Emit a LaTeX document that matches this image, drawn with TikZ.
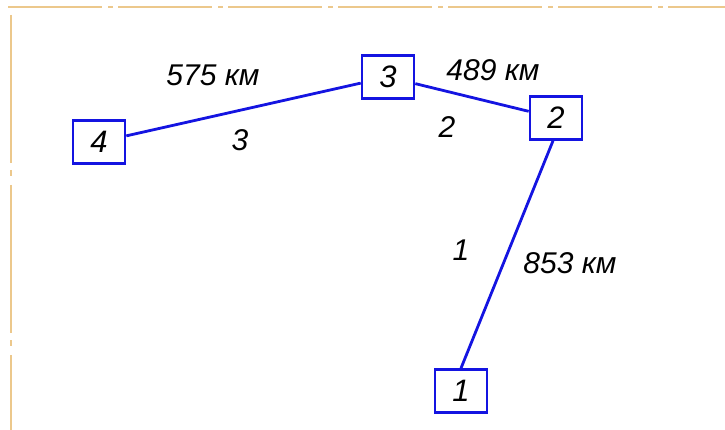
\documentclass[tikz,border=0pt]{standalone}
\usepackage{fontspec}
\setmainfont{Liberation Sans}
\definecolor{lineblue}{RGB}{20,20,225}
\definecolor{frameorange}{RGB}{236,200,140}
\begin{document}
\begin{tikzpicture}[x=1pt,y=-1pt,
        town/.style={draw=lineblue,line width=2.6pt,minimum width=52pt,minimum height=43pt,inner sep=0pt,font=\itshape\fontsize{31}{31}\selectfont},
        road/.style={lineblue,line width=2.8pt},
        lbl/.style={font=\itshape\fontsize{30}{30}\selectfont,inner sep=0pt}]
                \useasboundingbox (0,0) rectangle (725,430);
                % frame
                \draw[frameorange,line width=1.6pt,dash pattern=on 94pt off 6pt on 5pt off 5pt] (8,7) -- (725,7);
                \draw[frameorange,line width=1.6pt,dash pattern=on 148pt off 7pt on 6pt off 9pt] (11,15) -- (11,430);
                % towns
                \node[town] (t4) at (99,142) {4};
                \node[town] (t3) at (388,77) {3};
                \node[town] (t2) at (556,118) {2};
                \node[town] (t1) at (461,391) {1};
                % roads
                \draw[road] (t4) -- (t3);
                \draw[road] (t3) -- (t2);
                \draw[road] (t2.south) ++(-3pt,0) coordinate (c2) (c2) -- (t1.north);
                % labels
                \node[lbl] (d3) at (213,75) {575 км};
                \node[lbl] (n3) at (240,140) {3};
                \node[lbl] (d2) at (493,70) {489 км};
                \node[lbl] (n2) at (447,127) {2};
                \node[lbl] (n1) at (461,250) {1};
                \node[lbl] (d1) at (570,263) {853 км};
            \end{tikzpicture}
\end{document}
